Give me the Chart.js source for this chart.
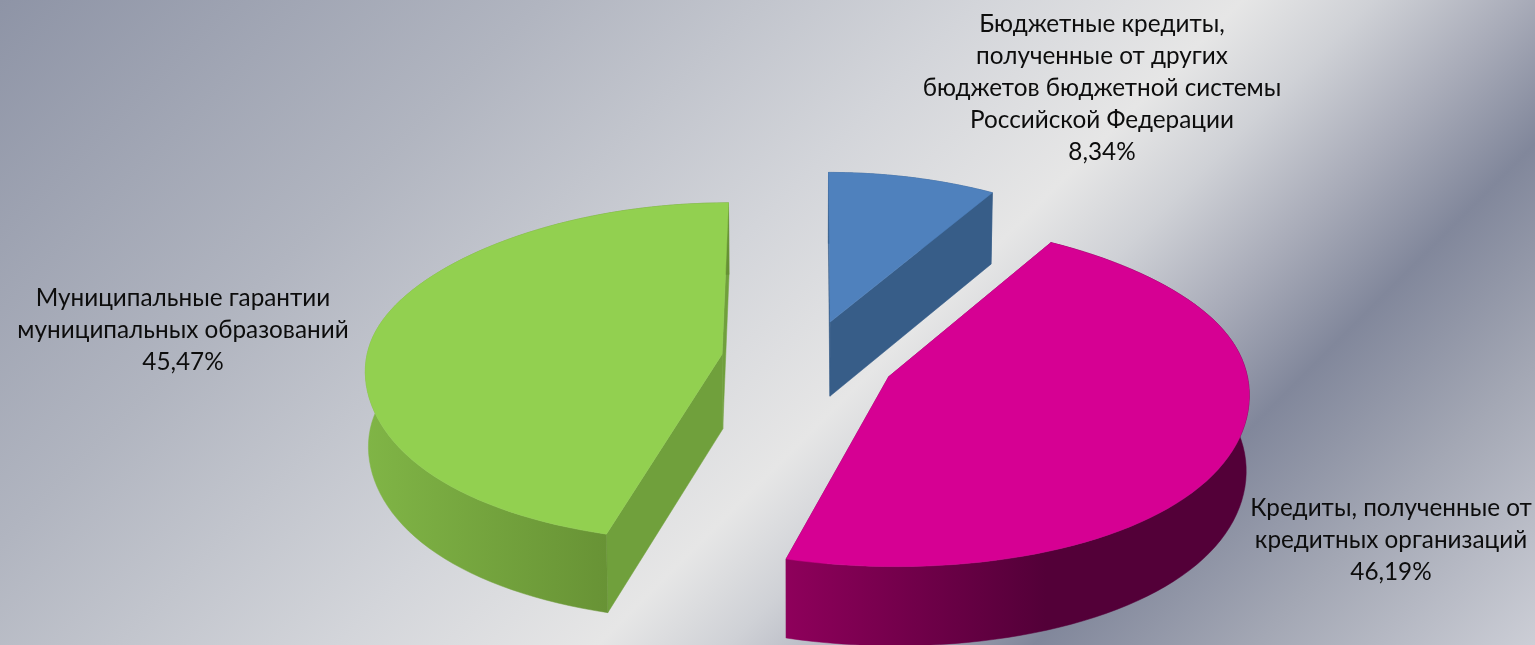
<!DOCTYPE html>
<html>
<head>
<meta charset="utf-8">
<title>Структура муниципального долга</title>
<script src="https://cdn.jsdelivr.net/npm/chart.js@4"></script>
<style>
  html, body { margin: 0; height: 100%; overflow: hidden; }
  body { background: linear-gradient(135deg, #8e94a6 0%, #b1b5c0 25%, #d3d5da 45%, #e6e6e6 57%, #cfd1d6 63%, #a9acb9 70%, #81879b 77%, #a3a7b4 87%, #ccced6 100%); }
  #wrap { position: absolute; left: 0; top: 0; width: 1535px; height: 645px; }
</style>
</head>
<body>
<div id="wrap"><canvas id="chart"></canvas></div>
<script>
const categories = [
  ['Бюджетные кредиты,', 'полученные от других', 'бюджетов бюджетной системы', 'Российской Федерации'],
  ['Кредиты, полученные от', 'кредитных организаций'],
  ['Муниципальные гарантии', 'муниципальных образований']
];
const shares = [8.34, 46.19, 45.47];
const shareLabels = ['8,34%', '46,19%', '45,47%'];
const topColors = ['#4f81bd', '#d60093', '#92d050'];
const cutColors = ['#375d88', '#7c0056', '#70a03c'];
const wallStops = [
  ['#375d88', '#375d88'],
  ['#8e005b', '#530038'],
  ['#80b546', '#669034']
];
const labelCenters = [[1102, 24], [1391, 508], [183, 298]];

// look of the fake 3D disc
const pieRadius = 356;     // px on screen at the disc's middle
const explode = 87;        // how far each slice is pulled out
const perspective = 0.117; // near edge larger than far edge
const thickness = 75;

function project(cx, cy, u, v, down) {
  const d = 1 - perspective * v / pieRadius;
  const shrink = down ? 0.993 : 1;
  const x = cx + u / Math.pow(d, 0.7) * shrink;
  // flatter towards the back, fuller towards the viewer
  const squash = 0.478 + 0.052 * Math.tanh(v / 150);
  const y = cy + squash * v + (down ? thickness / Math.pow(d, 0.4) : 0);
  return [x, y];
}

function slicePoints(arc) {
  const k = pieRadius / arc.outerRadius;
  const mid = (arc.startAngle + arc.endAngle) / 2;
  const ox = Math.cos(mid) * explode, oy = Math.sin(mid) * explode;
  const steps = 80;
  const rim = [];
  for (let i = 0; i <= steps; i++) {
    const a = arc.startAngle + (arc.endAngle - arc.startAngle) * i / steps;
    rim.push([ox + Math.cos(a) * arc.outerRadius * k, oy + Math.sin(a) * arc.outerRadius * k]);
  }
  return { apex: [ox, oy], rim };
}

function fillPoly(ctx, pts, style) {
  ctx.beginPath();
  pts.forEach((p, i) => i ? ctx.lineTo(p[0], p[1]) : ctx.moveTo(p[0], p[1]));
  ctx.closePath();
  ctx.fillStyle = style;
  ctx.strokeStyle = style;
  ctx.lineWidth = 0.5;
  ctx.fill();
  ctx.stroke();
}

const disc3d = {
  id: 'disc3d',
  beforeDatasetDraw(chart, args) {
    const ctx = chart.ctx;
    const arcs = chart.getDatasetMeta(args.index).data;
    arcs.forEach((arc, i) => {
      const { apex, rim } = slicePoints(arc);
      const top = p => project(arc.x, arc.y, p[0], p[1], false);
      const low = p => project(arc.x, arc.y, p[0], p[1], true);
      const first = rim[0], last = rim[rim.length - 1];
      // cut faces
      fillPoly(ctx, [top(apex), top(first), low(first), low(apex)], cutColors[i]);
      fillPoly(ctx, [top(apex), top(last), low(last), low(apex)], cutColors[i]);
      // outer wall
      const xs = rim.map(p => top(p)[0]);
      const grad = ctx.createLinearGradient(Math.min(...xs), 0, Math.min(Math.max(...xs), Math.min(...xs) + 260), 0);
      grad.addColorStop(0, wallStops[i][0]);
      grad.addColorStop(1, wallStops[i][1]);
      fillPoly(ctx, rim.map(top).concat(rim.slice().reverse().map(low)), grad);
      // top face
      fillPoly(ctx, [top(apex)].concat(rim.map(top)), topColors[i]);
    });
    return false;
  },
  afterDraw(chart) {
    const ctx = chart.ctx;
    ctx.save();
    ctx.font = '24.3px Lato, "Noto Sans", sans-serif';
    ctx.fillStyle = '#0d0d0d';
    ctx.textAlign = 'center';
    ctx.textBaseline = 'middle';
    categories.forEach((lines, i) => {
      lines.concat(shareLabels[i]).forEach((t, j) => {
        ctx.fillText(t, labelCenters[i][0], labelCenters[i][1] + j * 32);
      });
    });
    ctx.restore();
  }
};

new Chart(document.getElementById('chart'), {
  type: 'pie',
  data: {
    labels: categories.map(c => c.join(' ')),
    datasets: [{ data: shares, backgroundColor: topColors, borderWidth: 0 }]
  },
  options: {
    responsive: true,
    maintainAspectRatio: false,
    animation: false,
    layout: { padding: { left: 81, top: 75 } },
    plugins: { legend: { display: false }, tooltip: { enabled: false } }
  },
  plugins: [disc3d]
});
</script>
</body>
</html>
